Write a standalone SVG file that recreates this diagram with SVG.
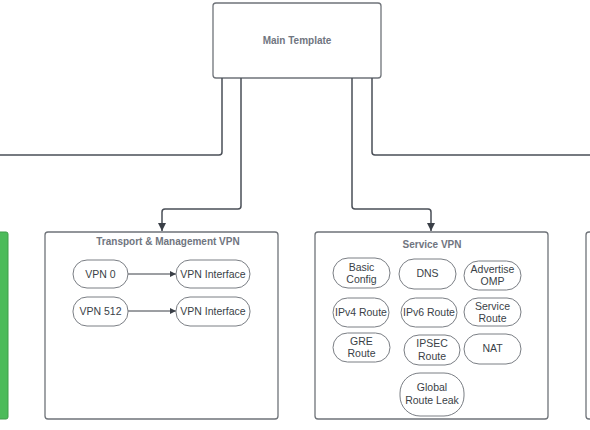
<svg xmlns="http://www.w3.org/2000/svg" width="590" height="430" viewBox="0 0 590 430">
<defs>
<marker id="ah" viewBox="0 0 10 10" refX="10" refY="5" markerWidth="8" markerHeight="8" markerUnits="userSpaceOnUse" orient="auto">
<path d="M0,0 L10,5 L0,10 z" fill="#3a3f47"/>
</marker>
<marker id="ahs" viewBox="0 0 10 10" refX="10" refY="5" markerWidth="7" markerHeight="6" markerUnits="userSpaceOnUse" orient="auto">
<path d="M0,0 L10,5 L0,10 z" fill="#3a3f47"/>
</marker>
</defs>
<style>
.box{fill:#fff;stroke:#6f7379;stroke-width:1.3}
.pill{fill:#fff;stroke:#7a7e84;stroke-width:1}
.conn{fill:none;stroke:#4a4f57;stroke-width:1.5;stroke-linejoin:round}
.thin{fill:none;stroke:#3a3f47;stroke-width:1}
.title{font-family:"Liberation Sans",Arial,sans-serif;font-size:10px;font-weight:bold;fill:#707580;text-anchor:middle}
.t{font-family:"Liberation Sans",Arial,sans-serif;font-size:10.5px;fill:#3a3f47;text-anchor:middle}
</style>
<rect width="590" height="430" fill="#fff"/>
<g id="main-template">
<rect class="box" x="213" y="3" width="168" height="75" rx="3"/>
<text class="title" x="297" y="44">Main Template</text>
</g>
<g id="left-partial">
<rect x="-10" y="232" width="18" height="187" rx="2" fill="#4cbb5a" stroke="#3f9d4b" stroke-width="1"/>
</g>
<g id="right-partial">
<rect class="box" x="586" y="232" width="20" height="187" rx="3"/>
</g>
<g id="transport-vpn">
<rect class="box" x="45" y="232" width="233" height="187" rx="3"/>
<text class="title" x="168" y="245">Transport &amp; Management VPN</text>
</g>
<g id="service-vpn">
<rect class="box" x="315" y="232" width="233" height="187" rx="3"/>
<text class="title" x="432" y="248">Service VPN</text>
</g>
<g id="connectors">
<path class="conn" d="M222,78 V152 Q222,155 219,155 H0"/>
<path class="conn" d="M372,78 V152 Q372,155 375,155 H590"/>
<path class="conn" d="M241,78 V206 Q241,209 238,209 H165 Q162,209 162,212 V231" marker-end="url(#ah)"/>
<path class="conn" d="M352,78 V206 Q352,209 355,209 H428 Q431,209 431,212 V231" marker-end="url(#ah)"/>
<path class="thin" d="M128,274 H176" marker-end="url(#ahs)"/>
<path class="thin" d="M128,311 H176" marker-end="url(#ahs)"/>
</g>
<g id="vpn0">
<rect class="pill" x="73" y="260" width="55" height="28" rx="14"/>
<text class="t" x="100.5" y="278">VPN 0</text>
</g>
<g id="vpn0-if">
<rect class="pill" x="176" y="260" width="74" height="28" rx="14"/>
<text class="t" x="213" y="278">VPN Interface</text>
</g>
<g id="vpn512">
<rect class="pill" x="73" y="297" width="55" height="29" rx="14"/>
<text class="t" x="100.5" y="315">VPN 512</text>
</g>
<g id="vpn512-if">
<rect class="pill" x="176" y="297" width="74" height="29" rx="14"/>
<text class="t" x="213" y="315">VPN Interface</text>
</g>
<g id="basic-config">
<rect class="pill" x="333" y="258" width="57" height="30" rx="15"/>
<text class="t" x="361.5" y="271">Basic</text>
<text class="t" x="361.5" y="283">Config</text>
</g>
<g id="dns">
<rect class="pill" x="399" y="259" width="57" height="30" rx="15"/>
<text class="t" x="427.5" y="277">DNS</text>
</g>
<g id="advertise-omp">
<rect class="pill" x="464" y="261" width="57" height="29" rx="14.5"/>
<text class="t" x="492.5" y="273">Advertise</text>
<text class="t" x="492.5" y="285">OMP</text>
</g>
<g id="ipv4-route">
<rect class="pill" x="333" y="298" width="56" height="29" rx="14.5"/>
<text class="t" x="361" y="316">IPv4 Route</text>
</g>
<g id="ipv6-route">
<rect class="pill" x="401" y="298" width="56" height="29" rx="14.5"/>
<text class="t" x="429" y="316">IPv6 Route</text>
</g>
<g id="service-route">
<rect class="pill" x="464" y="298" width="57" height="28" rx="14"/>
<text class="t" x="492.5" y="310">Service</text>
<text class="t" x="492.5" y="322">Route</text>
</g>
<g id="gre-route">
<rect class="pill" x="333" y="333" width="57" height="29" rx="14.5"/>
<text class="t" x="361.5" y="345">GRE</text>
<text class="t" x="361.5" y="357">Route</text>
</g>
<g id="ipsec-route">
<rect class="pill" x="404" y="335" width="56" height="30" rx="15"/>
<text class="t" x="432" y="347">IPSEC</text>
<text class="t" x="432" y="360">Route</text>
</g>
<g id="nat">
<rect class="pill" x="464" y="334" width="57" height="30" rx="15"/>
<text class="t" x="492.5" y="352">NAT</text>
</g>
<g id="global-route-leak">
<rect class="pill" x="400" y="373" width="64" height="43" rx="20"/>
<text class="t" x="432" y="391">Global</text>
<text class="t" x="432" y="404">Route Leak</text>
</g>
</svg>
